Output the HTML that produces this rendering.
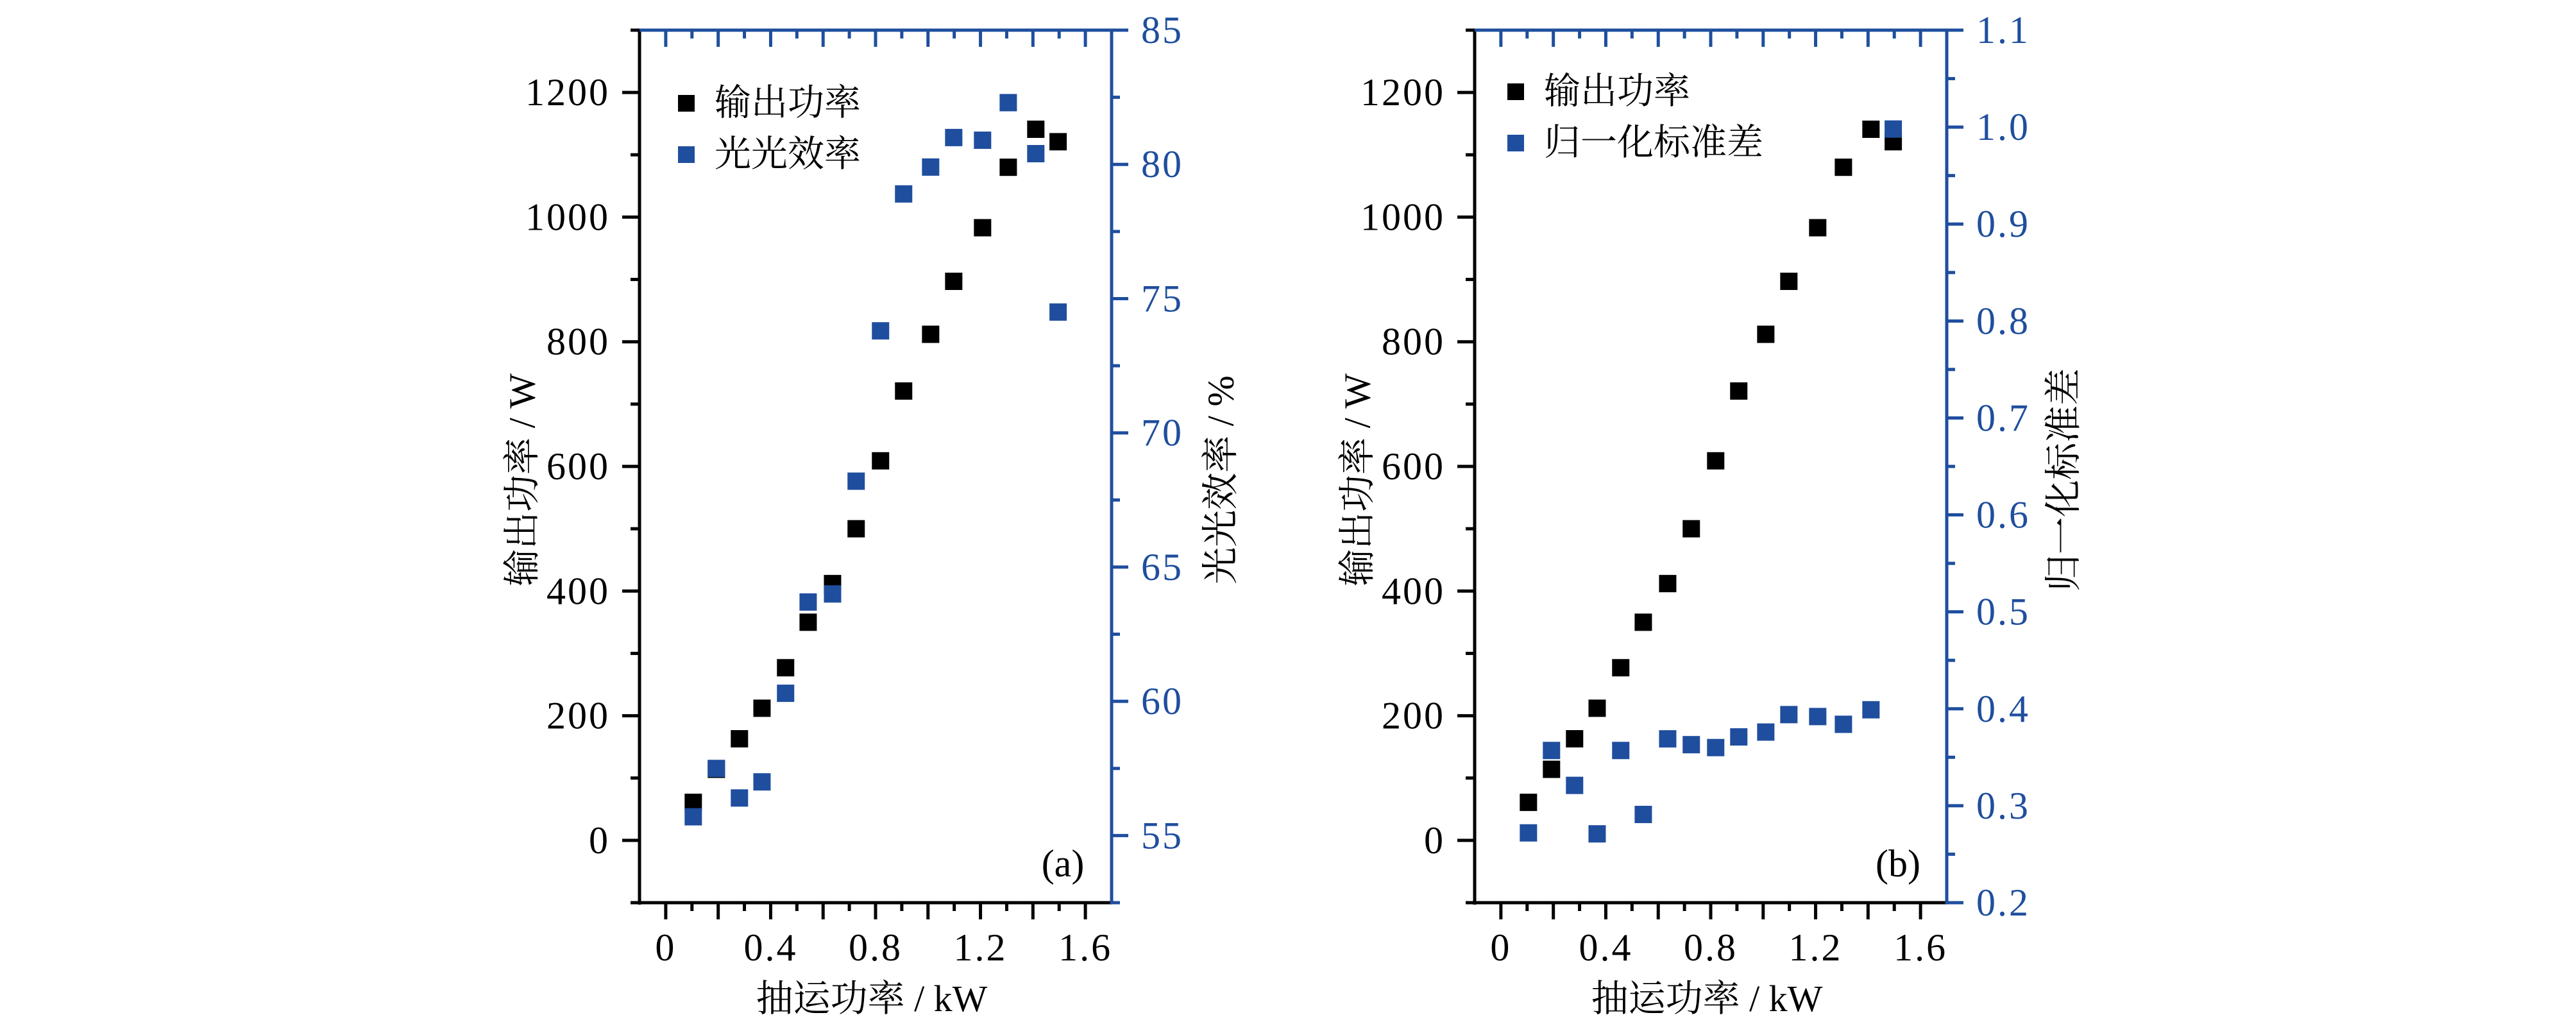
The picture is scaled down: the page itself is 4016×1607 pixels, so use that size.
<!DOCTYPE html>
<html><head><meta charset="utf-8">
<style>
html,body{margin:0;padding:0;background:#fff;}
svg{display:block;}
text{font-family:"Liberation Serif","Noto Serif CJK SC",serif;}
</style></head>
<body>
<svg id="chart" width="4016" height="1607" viewBox="0 0 4016 1607" xmlns="http://www.w3.org/2000/svg"></svg>
<script>
// ---- data ----
const pumpPower = [0.105,0.193,0.281,0.367,0.457,0.543,0.636,0.726,0.819,0.907,1.01,1.098,1.208,1.306,1.411,1.496];
const outputPower = [61,114,163,212,277,350,412,500,609,721,812,897,983,1080,1141,1121];
const efficiency = [55.7,57.5,56.4,57.0,60.3,63.7,64.0,68.2,73.8,78.9,79.9,81.0,80.9,82.3,80.4,74.5];
const normStd = [0.272,0.357,0.321,0.271,0.357,0.291,0.369,0.363,0.360,0.371,0.376,0.394,0.392,0.384,0.399,0.998];
const xTickLabels = ["0","0.4","0.8","1.2","1.6"];
const leftTickLabels = ["0","200","400","600","800","1000","1200"];
const rightTickLabelsA = ["55","60","65","70","75","80","85"];
const rightTickLabelsB = ["0.2","0.3","0.4","0.5","0.6","0.7","0.8","0.9","1.0","1.1"];

const NS="http://www.w3.org/2000/svg";
const svg=document.getElementById('chart');
const BLUE="#1f4e9e";
function mk(tag,attrs,parent){const e=document.createElementNS(NS,tag);for(const k in attrs)e.setAttribute(k,attrs[k]);(parent||svg).appendChild(e);return e;}

function panel(cfg){
  const g=mk('g',{});
  
  
  const L=cfg.left,R=cfg.left+736,T=47,B=1407;
  const xs=v=>L+(v+0.1)/1.8*(R-L);
  const yl=v=>B-(v+100)/1400*(B-T);
  const yr=v=>B-(v-cfg.rmin)/(cfg.rmax-cfg.rmin)*(B-T);
  for(let i=0;i<=16;i++){
    const v=i*0.1, x=xs(v), major=(i%2===0), len=major?26:13;
    const t=mk('line',{x1:x,y1:B,x2:x,y2:B+len,stroke:'#000','stroke-width':5},g);
    
    
    const t2=mk('line',{x1:x,y1:T,x2:x,y2:T+len,stroke:BLUE,'stroke-width':5},g);
    
    
  }
  xTickLabels.forEach(s=>{
    const v=parseFloat(s);
    const t=mk('text',{x:xs(v),y:1497,'font-size':60,'text-anchor':'middle','letter-spacing':3,fill:'#000'},g);
    t.textContent=s;
    
    
  });
  for(let v=-100;v<=1300;v+=100){
    const y=yl(v), major=(v%200===0), len=major?27:14;
    const t=mk('line',{x1:L,y1:y,x2:L-len,y2:y,stroke:'#000','stroke-width':5},g);
    
    
  }
  leftTickLabels.forEach(s=>{
    const t=mk('text',{x:L-46,y:yl(parseFloat(s))+20,'font-size':60,'text-anchor':'end','letter-spacing':3,fill:'#000'},g);
    t.textContent=s;
    
    
  });
  const steps=Math.round((cfg.rmax-cfg.rmin)/cfg.rminor);
  for(let i=0;i<=steps;i++){
    const v=cfg.rmin+i*cfg.rminor;
    const major=Math.abs(Math.round(v/cfg.rmajor)*cfg.rmajor-v)<1e-6;
    const len=major?26:13;
    const t=mk('line',{x1:R,y1:yr(v),x2:R+len,y2:yr(v),stroke:BLUE,'stroke-width':5},g);
    
    
  }
  cfg.rlabels.forEach(s=>{
    const t=mk('text',{x:R+46,y:yr(parseFloat(s))+20,'font-size':60,'letter-spacing':3,fill:BLUE},g);
    t.textContent=s;
    
    
  });
  const ab=mk('line',{x1:L-3,y1:B,x2:R,y2:B,stroke:'#000','stroke-width':5},g);
  
  const al=mk('line',{x1:L,y1:T,x2:L,y2:B+3,stroke:'#000','stroke-width':5},g);
  
  const at=mk('line',{x1:L,y1:T,x2:R+2,y2:T,stroke:BLUE,'stroke-width':5},g);
  
  const ar=mk('line',{x1:R,y1:T,x2:R,y2:B+2,stroke:BLUE,'stroke-width':5},g);
  
  const S=27;
  pumpPower.forEach((x,i)=>{
    const r=mk('rect',{x:xs(x)-S/2,y:yl(outputPower[i])-S/2,width:S,height:S,fill:'#000'},g);
    
    
  });
  pumpPower.forEach((x,i)=>{
    const r=mk('rect',{x:xs(x)-S/2,y:yr(cfg.rdata[i])-S/2,width:S,height:S,fill:BLUE},g);
    
    
  });
  const xt=mk('text',{x:L+362,y:1576,'font-size':58,'text-anchor':'middle',fill:'#000'},g);
  xt.textContent='抽运功率 / kW';
  
  const lt=mk('text',{x:0,y:0,'font-size':58,'text-anchor':'middle',fill:'#000',transform:`translate(${L-184},748) rotate(-90)`,dy:'0.35em'},g);
  lt.textContent='输出功率 / W';
  
  const rt=mk('text',{x:0,y:0,'font-size':58,'text-anchor':'middle',fill:'#000',transform:`translate(${cfg.rtitleX},${cfg.rtitleY}) rotate(-90)`,dy:'0.35em'},g);
  rt.textContent=cfg.rtitle;
  
  const ly=[cfg.legY,cfg.legY+80];
  const cols=['#000',BLUE],labs=['输出功率',cfg.rtitleLeg];
  for(let i=0;i<2;i++){
    const r=mk('rect',{x:cfg.legX-13,y:ly[i]-13,width:26,height:26,fill:cols[i]},g);
    
    const t=mk('text',{x:cfg.legX+44,y:ly[i]+18,'font-size':57,fill:'#000'},g);
    t.textContent=labs[i];
    
  }
  const pl=mk('text',{x:R-76,y:1366,'font-size':60,'text-anchor':'middle',fill:'#000'},g);
  pl.textContent=cfg.tag;
  
}
panel({name:'panel-a',left:997,rmin:52.5,rmax:85,rminor:2.5,rmajor:5,rlabels:rightTickLabelsA,rdata:efficiency,rname:'efficiency',
  rtitle:'光光效率 / %',rtitleLeg:'光光效率',rtitleX:1902,rtitleY:748,legX:1070,legY:161,tag:'(a)'});
panel({name:'panel-b',left:2299,rmin:0.2,rmax:1.1,rminor:0.05,rmajor:0.1,rlabels:rightTickLabelsB,rdata:normStd,rname:'norm-std',
  rtitle:'归一化标准差',rtitleLeg:'归一化标准差',rtitleX:3216,rtitleY:748,legX:2363,legY:143,tag:'(b)'});
</script>
</body></html>
